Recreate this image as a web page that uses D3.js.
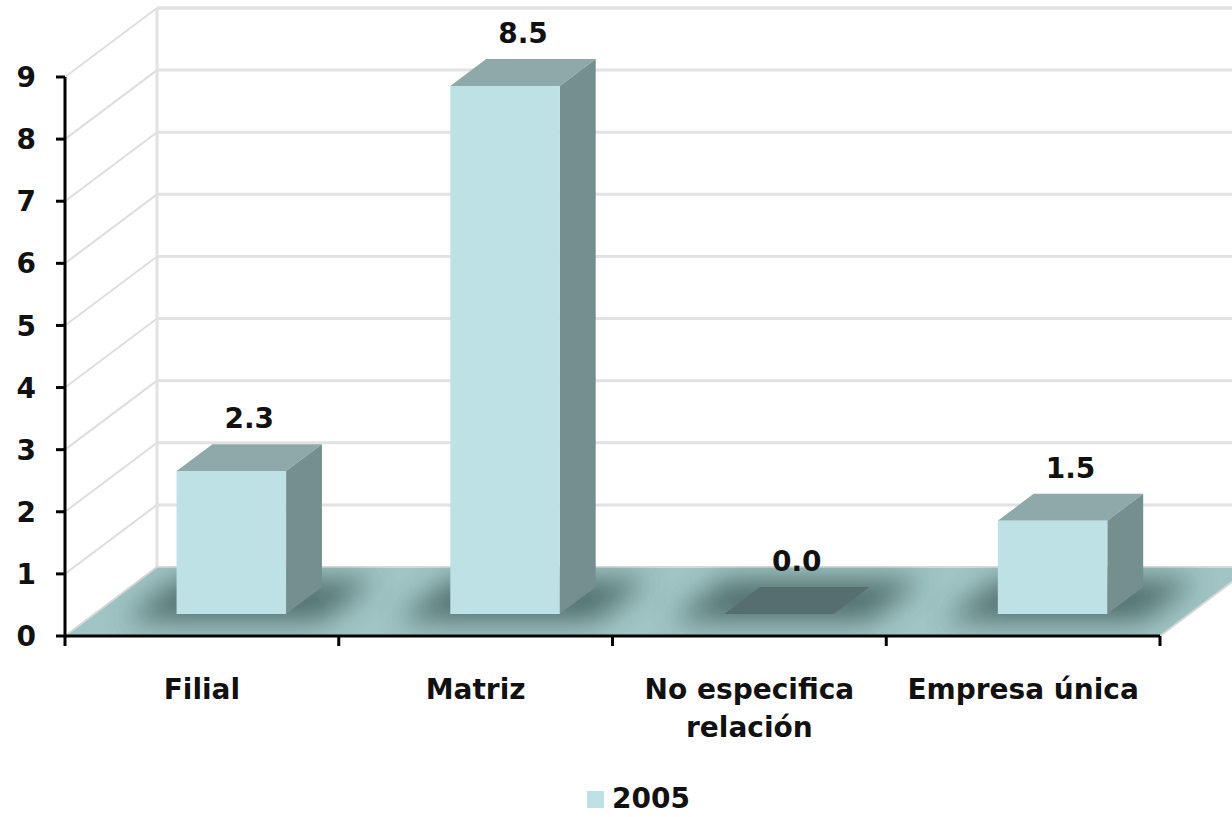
<!DOCTYPE html>
<html>
<head>
<meta charset="utf-8">
<script src="https://cdn.jsdelivr.net/npm/d3@7"></script>
<style>
  body { margin: 0; background: #fff; }
  text { font-family: "DejaVu Sans", Verdana, sans-serif; font-weight: bold; fill: #111; }
</style>
</head>
<body>
<div class="chart"></div>
<script>
const FRAME_WIDTH = 1232;
const FRAME_HEIGHT = 817;

// data
const categories = ["Filial", "Matriz", "No especifica relación", "Empresa única"];
const catLines = [["Filial"], ["Matriz"], ["No especifica", "relación"], ["Empresa única"]];
const values2005 = [2.3, 8.5, 0.0, 1.5];
const yTicks = [0, 1, 2, 3, 4, 5, 6, 7, 8, 9];
const seriesName = "2005";

// layout of the fake 3d box
const X0 = 65, X1 = 1160;
const Y_BOTTOM = 636, Y_TOP = 77;
const DX = 92, DY = -69;          // full depth offset
const BAR_D0 = 0.32, BAR_D1 = 0.71; // bar depth within the floor
const BAR_FRAC = 0.4;

const FRONT = "#bde1e4", TOP = "#8fa9aa", SIDE = "#758f8f";

const svg = d3.select(".chart").append("svg")
    .attr("width", FRAME_WIDTH)
    .attr("height", FRAME_HEIGHT);

const xScale = d3.scaleBand().domain(categories).range([X0, X1]);
const yScale = d3.scaleLinear().domain([0, 9]).range([Y_BOTTOM, Y_TOP]);

// project (x on front plane, value, depth 0..1)
function P(x, v, d) {
    return [x + d * DX, yScale(v) + d * DY];
}
function poly(pts) {
    return pts.map(p => p.join(",")).join(" ");
}

const defs = svg.append("defs");
defs.append("filter").attr("id", "blur")
    .attr("x", "-50%").attr("y", "-50%").attr("width", "200%").attr("height", "200%")
    .append("feGaussianBlur").attr("stdDeviation", 14);
defs.append("clipPath").attr("id", "floorClip")
    .append("polygon")
    .attr("points", poly([P(X0, 0, 0), P(X1, 0, 0), P(X1, 0, 1), P(X0, 0, 1)]));

// back wall gridlines
svg.append("g").selectAll("line")
    .data(yTicks.slice(1).concat([9]))
    .enter().append("line")
    .attr("x1", d => P(X0, d, 1)[0])
    .attr("x2", FRAME_WIDTH + 50)
    .attr("y1", d => P(X0, d, 1)[1])
    .attr("y2", d => P(X0, d, 1)[1])
    .attr("stroke", "#e2e2e2")
    .attr("stroke-width", 3);

// side wall diagonals
svg.append("g").selectAll("line")
    .data(yTicks.slice(1))
    .enter().append("line")
    .attr("x1", d => P(X0, d, 0)[0])
    .attr("y1", d => P(X0, d, 0)[1])
    .attr("x2", d => P(X0, d, 1)[0])
    .attr("y2", d => P(X0, d, 1)[1])
    .attr("stroke", "#dedede")
    .attr("stroke-width", 2);

// back wall left edge
svg.append("line")
    .attr("x1", P(X0, 0, 1)[0]).attr("x2", P(X0, 9, 1)[0])
    .attr("y1", P(X0, 0, 1)[1]).attr("y2", P(X0, 9, 1)[1])
    .attr("stroke", "#e2e2e2").attr("stroke-width", 3);

// floor
svg.append("polygon")
    .attr("points", poly([P(X0, 0, 0), P(X1, 0, 0), P(X1, 0, 1), P(X0, 0, 1)]))
    .attr("fill", "#a0c5c4")
    .attr("stroke", "#d8d8d8")
    .attr("stroke-width", 2);

// floor shadows around each bar
const shadowG = svg.append("g").attr("clip-path", "url(#floorClip)");
shadowG.selectAll("polygon")
    .data(categories)
    .enter().append("polygon")
    .attr("points", d => {
        const c = xScale(d) + xScale.bandwidth() / 2;
        const hw = xScale.bandwidth() * 0.36;
        return poly([P(c - hw, 0, 0.22), P(c + hw, 0, 0.22), P(c + hw, 0, 0.82), P(c - hw, 0, 0.82)]);
    })
    .attr("fill", "#476464")
    .attr("opacity", 0.9)
    .attr("filter", "url(#blur)");

// bars
const bars = svg.append("g").selectAll("g")
    .data(categories.map((c, i) => ({cat: c, value: values2005[i]})))
    .enter().append("g");

function barX(d) {
    const c = xScale(d.cat) + xScale.bandwidth() / 2;
    const hw = xScale.bandwidth() * BAR_FRAC / 2;
    return [c - hw, c + hw];
}

// top face
bars.append("polygon")
    .attr("points", d => {
        const [l, r] = barX(d);
        return poly([P(l, d.value, BAR_D0), P(r, d.value, BAR_D0), P(r, d.value, BAR_D1), P(l, d.value, BAR_D1)]);
    })
    .attr("fill", d => d.value > 0 ? TOP : "#566f6e");

// side face
bars.filter(d => d.value > 0).append("polygon")
    .attr("points", d => {
        const [l, r] = barX(d);
        return poly([P(r, 0, BAR_D0), P(r, 0, BAR_D1), P(r, d.value, BAR_D1), P(r, d.value, BAR_D0)]);
    })
    .attr("fill", SIDE);

// front face
bars.filter(d => d.value > 0).append("polygon")
    .attr("points", d => {
        const [l, r] = barX(d);
        return poly([P(l, 0, BAR_D0), P(r, 0, BAR_D0), P(r, d.value, BAR_D0), P(l, d.value, BAR_D0)]);
    })
    .attr("fill", FRONT);

// value labels
bars.append("text")
    .attr("x", d => {
        const [l, r] = barX(d);
        return P((l + r) / 2, d.value, (BAR_D0 + BAR_D1) / 2)[0];
    })
    .attr("y", d => {
        const [l, r] = barX(d);
        return P(l, d.value, BAR_D1)[1] - 16;
    })
    .attr("text-anchor", "middle")
    .attr("font-size", "28px")
    .text(d => d.value.toFixed(1));

// y axis
const yAxis = svg.append("g");
yAxis.append("line")
    .attr("x1", X0).attr("x2", X0)
    .attr("y1", yScale(9)).attr("y2", yScale(0) + 1.5)
    .attr("stroke", "#000").attr("stroke-width", 3);
yAxis.selectAll(".tick")
    .data(yTicks)
    .enter().append("line")
    .attr("x1", X0 - 9).attr("x2", X0)
    .attr("y1", d => yScale(d)).attr("y2", d => yScale(d))
    .attr("stroke", "#000").attr("stroke-width", 3);
yAxis.selectAll("text")
    .data(yTicks)
    .enter().append("text")
    .attr("x", 36)
    .attr("y", d => yScale(d))
    .attr("dy", "0.36em")
    .attr("text-anchor", "end")
    .attr("font-size", "28px")
    .text(d => d);

// x axis
const xAxis = svg.append("g");
xAxis.append("line")
    .attr("x1", X0).attr("x2", X1)
    .attr("y1", Y_BOTTOM).attr("y2", Y_BOTTOM)
    .attr("stroke", "#000").attr("stroke-width", 3);
xAxis.selectAll(".tick")
    .data(categories.map(c => xScale(c)).concat([X1]))
    .enter().append("line")
    .attr("x1", d => d).attr("x2", d => d)
    .attr("y1", Y_BOTTOM).attr("y2", Y_BOTTOM + 10)
    .attr("stroke", "#000").attr("stroke-width", 3);
const catText = xAxis.selectAll(".cat")
    .data(categories)
    .enter().append("text")
    .attr("class", "cat")
    .attr("x", d => xScale(d) + xScale.bandwidth() / 2)
    .attr("y", 699)
    .attr("text-anchor", "middle")
    .attr("font-size", "28px");
catText.each(function(d, i) {
    const t = d3.select(this);
    catLines[i].forEach((line, j) => {
        t.append("tspan")
            .attr("x", xScale(d) + xScale.bandwidth() / 2)
            .attr("dy", j === 0 ? 0 : 38)
            .text(line);
    });
});

// legend
const legend = svg.append("g");
legend.append("rect")
    .attr("x", 587).attr("y", 791)
    .attr("width", 17).attr("height", 17)
    .attr("fill", FRONT);
legend.append("text")
    .attr("x", 612).attr("y", 808)
    .attr("font-size", "28px")
    .text(seriesName);
</script>
</body>
</html>
